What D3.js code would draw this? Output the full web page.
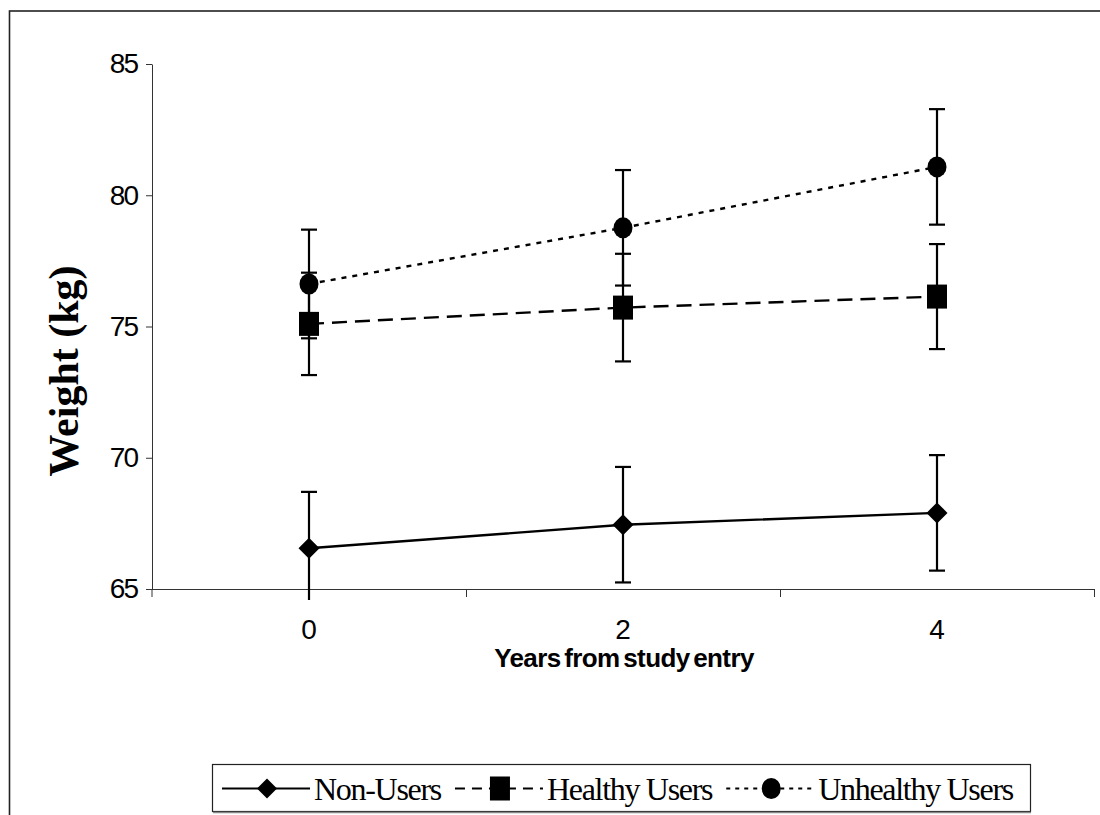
<!DOCTYPE html>
<html>
<head>
<meta charset="utf-8">
<script src="https://cdn.jsdelivr.net/npm/d3@7"></script>
<style>
  html, body { margin: 0; padding: 0; background: #fff; }
  svg { display: block; }
</style>
</head>
<body>
<div id="chart"></div>
<script>
(function() {
  const width = 1100
  const height = 815

  // data
  const years = ["0", "2", "4"]
  const yTicks = [65, 70, 75, 80, 85]
  const seriesNames = ["Non-Users", "Healthy Users", "Unhealthy Users"]
  const nonUsers = [66.55, 67.45, 67.9]
  const nonUsersErr = [2.15, 2.2, 2.2]
  const healthyUsers = [75.1, 75.72, 76.14]
  const healthyErr = [1.95, 2.05, 2.0]
  const unhealthyUsers = [76.62, 78.76, 81.08]
  const unhealthyErr = [2.07, 2.2, 2.2]

  const series = [
    { name: seriesNames[0], values: nonUsers, err: nonUsersErr, dash: null, marker: "diamond" },
    { name: seriesNames[1], values: healthyUsers, err: healthyErr, dash: "15,8", marker: "square" },
    { name: seriesNames[2], values: unhealthyUsers, err: unhealthyErr, dash: "5,6", marker: "circle" }
  ]

  const plot = { left: 152, right: 1094, top: 64, bottom: 589 }

  const x = d3.scaleBand().domain(years).range([plot.left, plot.right])
  const y = d3.scaleLinear().domain([65, 85]).range([plot.bottom, plot.top])
  const cx = d => x(d) + x.bandwidth() / 2

  const svg = d3.select("#chart").append("svg")
      .attr("width", width)
      .attr("height", height)

  // outer chart frame (runs off to the right / bottom)
  svg.append("rect")
      .attr("x", 9.5).attr("y", 11)
      .attr("width", 1200).attr("height", 900)
      .attr("fill", "none")
      .attr("stroke", "#222")
      .attr("stroke-width", 1.6)

  // y axis
  const yAxis = svg.append("g")
      .attr("transform", `translate(${plot.left},0)`)
      .call(d3.axisLeft(y).tickValues(yTicks).tickSize(6).tickPadding(9).tickSizeOuter(0))
  yAxis.select(".domain").attr("stroke", "#333")
  yAxis.selectAll(".tick line").attr("stroke", "#333")
  yAxis.selectAll("text")
      .attr("font-family", "Liberation Sans, Arial, sans-serif")
      .attr("font-size", 28)
      .attr("letter-spacing", "-2px")
      .attr("fill", "#000")
  // extend y axis line below x axis like Excel
  svg.append("line")
      .attr("x1", plot.left).attr("x2", plot.left)
      .attr("y1", plot.bottom).attr("y2", plot.bottom + 8)
      .attr("stroke", "#333")

  // x axis: tick marks at category boundaries, labels at centres
  const xg = svg.append("g")
  xg.append("line")
      .attr("x1", plot.left).attr("x2", plot.right)
      .attr("y1", plot.bottom + 0.5).attr("y2", plot.bottom + 0.5)
      .attr("stroke", "#333")
  const bounds = years.map(d => x(d)).concat([x(years[years.length - 1]) + x.bandwidth()]).slice(1)
  xg.selectAll("line.tk")
    .data(bounds)
    .enter().append("line")
      .attr("class", "tk")
      .attr("x1", d => d + 0.5).attr("x2", d => d + 0.5)
      .attr("y1", plot.bottom).attr("y2", plot.bottom + 8)
      .attr("stroke", "#333")
  xg.selectAll("text")
    .data(years)
    .enter().append("text")
      .attr("x", cx)
      .attr("y", 639)
      .attr("text-anchor", "middle")
      .attr("font-family", "Liberation Sans, Arial, sans-serif")
      .attr("font-size", 28)
      .text(d => d)

  // axis titles
  svg.append("text")
      .attr("x", 624)
      .attr("y", 667)
      .attr("text-anchor", "middle")
      .attr("font-family", "Liberation Sans, Arial, sans-serif")
      .attr("font-weight", "bold")
      .attr("font-size", 26)
      .attr("letter-spacing", "-0.6px")
      .attr("word-spacing", "-3px")
      .text("Years from study entry")

  svg.append("text")
      .attr("transform", "translate(78,371) rotate(-90)")
      .attr("text-anchor", "middle")
      .attr("font-family", "Liberation Serif, Times New Roman, serif")
      .attr("font-weight", "bold")
      .attr("font-size", 42)
      .text("Weight (kg)")

  // clip for error bars (Excel lets the whisker poke a little under the axis)
  svg.append("clipPath").attr("id", "errclip")
    .append("rect")
      .attr("x", plot.left).attr("y", 0)
      .attr("width", plot.right - plot.left).attr("height", plot.bottom + 11)

  const marker = (g, type, size) => {
    if (type === "diamond") {
      g.append("path").attr("d", `M0,${-size}L${size},0L0,${size}L${-size},0Z`)
    } else if (type === "square") {
      g.append("rect").attr("x", -10).attr("y", -12).attr("width", 20).attr("height", 24)
    } else {
      g.append("ellipse").attr("rx", 9.5).attr("ry", 10.5)
    }
  }

  const line = d3.line().x((d, i) => cx(years[i])).y(d => y(d))

  series.forEach(s => {
    const g = svg.append("g")

    // error bars
    const eb = g.append("g").attr("clip-path", "url(#errclip)")
    s.values.forEach((v, i) => {
      const px = cx(years[i])
      const lo = v - s.err[i], hi = v + s.err[i]
      eb.append("line")
          .attr("x1", px).attr("x2", px)
          .attr("y1", y(hi)).attr("y2", y(lo))
          .attr("stroke", "#000").attr("stroke-width", 2.2)
      ;[hi, lo].forEach(e => {
        if (e < 65) return
        eb.append("line")
            .attr("x1", px - 8).attr("x2", px + 8)
            .attr("y1", y(e)).attr("y2", y(e))
            .attr("stroke", "#000").attr("stroke-width", 2.2)
      })
    })

    g.append("path")
        .datum(s.values)
        .attr("d", line)
        .attr("fill", "none")
        .attr("stroke", "#000")
        .attr("stroke-width", 2.4)
        .attr("stroke-dasharray", s.dash)

    s.values.forEach((v, i) => {
      const m = g.append("g")
          .attr("transform", `translate(${cx(years[i])},${y(v)})`)
          .attr("fill", "#000")
      marker(m, s.marker, 10.5)
    })
  })

  // legend
  const legendTop = 764, legendBottom = 811
  const legend = svg.append("g")
  legend.append("rect")
      .attr("x", 212.5).attr("y", legendTop + 0.5)
      .attr("width", 1030 - 212).attr("height", legendBottom - legendTop)
      .attr("fill", "#fff")
      .attr("stroke", "#222")
      .attr("stroke-width", 1.2)
  // little grey shadow on bottom edge
  legend.append("line")
      .attr("x1", 213).attr("x2", 1031)
      .attr("y1", legendBottom + 1.5).attr("y2", legendBottom + 1.5)
      .attr("stroke", "#888").attr("stroke-width", 1.5)

  const ly = (legendTop + legendBottom) / 2 + 1
  let lx = 222
  series.forEach(s => {
    const it = legend.append("g")
    it.append("line")
        .attr("x1", lx).attr("x2", lx + 88)
        .attr("y1", ly).attr("y2", ly)
        .attr("stroke", "#000").attr("stroke-width", 2)
        .attr("stroke-dasharray", s.dash ? (s.marker === "square" ? "10,7" : "4,5") : null)
    const m = it.append("g")
        .attr("transform", `translate(${lx + 45},${ly})`)
        .attr("fill", "#000")
    marker(m, s.marker, 10)
    const t = it.append("text")
        .attr("x", lx + 92)
        .attr("y", ly + 11)
        .attr("font-family", "Liberation Serif, Times New Roman, serif")
        .attr("font-size", 32)
        .attr("letter-spacing", "-1.3px")
        .text(s.name)
    lx += 92 + t.node().getComputedTextLength() + 14
  })
})()
</script>
</body>
</html>
